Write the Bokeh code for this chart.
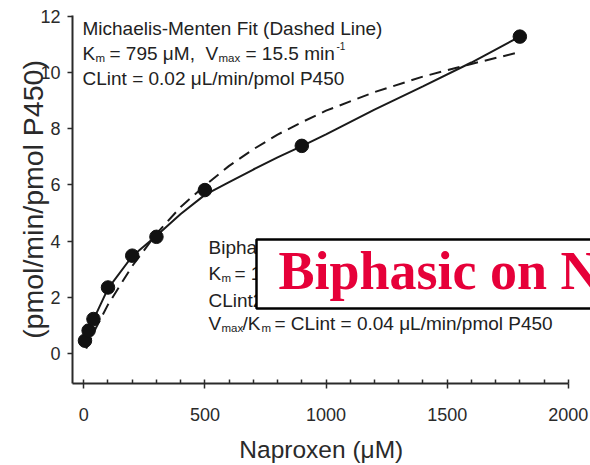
from bokeh.plotting import figure
from bokeh.models import Label, SingleIntervalTicker, Range1d
from bokeh.embed import file_html
from bokeh.resources import INLINE

# measured data points (Naproxen uM vs pmol/min/pmol P450)
conc = [5, 20, 40, 100, 200, 300, 500, 900, 1800]
rate = [0.47, 0.83, 1.24, 2.36, 3.49, 4.16, 5.82, 7.39, 11.27]

# Michaelis-Menten fit (dashed line)
mm_x = [10, 50, 100, 200, 300, 400, 500, 600, 700, 800, 900, 1000, 1200, 1400, 1600, 1800]
mm_y = [0.19, 0.92, 1.75, 3.12, 4.27, 5.22, 5.98, 6.68, 7.27, 7.79, 8.23, 8.64, 9.30, 9.85, 10.30, 10.72]

# Biphasic fit (solid line)
bi_x = [5, 20, 40, 100, 200, 300, 400, 500, 600, 700, 800, 900, 1000, 1200, 1400, 1600, 1800]
bi_y = [0.42, 0.80, 1.22, 2.32, 3.47, 4.20, 4.97, 5.65, 6.10, 6.55, 6.98, 7.38, 7.80, 8.68, 9.50, 10.35, 11.27]

x_axis_end = 2000
x_ticks_interval = 500
y_ticks_interval = 2

W, H = 590, 465
BL, BR, BT, BB = 72, 0, 15, 82
SX = 497 / 2051.5
XR = (-46.5, 2005 + 21 / SX)
YR = (-1.05, 12.02)

p = figure(width=W, height=H, output_backend="svg", toolbar_location=None,
           x_range=Range1d(*XR), y_range=Range1d(*YR),
           min_border_left=BL, min_border_right=BR, min_border_top=BT, min_border_bottom=BB)
p.outline_line_color = None
p.grid.visible = False
p.background_fill_color = "white"
p.border_fill_color = "white"

AX = "#2a2a2a"
FONT = "Liberation Sans"

xa = p.xaxis[0]
xa.bounds = (XR[0], x_axis_end)
xa.ticker = SingleIntervalTicker(interval=x_ticks_interval, num_minor_ticks=5)
xa.major_tick_out = 5
xa.major_tick_in = 0
xa.minor_tick_out = 0
xa.minor_tick_in = 4
xa.axis_line_width = 2
xa.axis_line_color = AX
xa.major_tick_line_color = AX
xa.minor_tick_line_color = AX
xa.major_tick_line_width = 1.5
xa.minor_tick_line_width = 1.5
xa.major_label_text_font = FONT
xa.major_label_text_font_size = "18px"
xa.major_label_text_color = AX
xa.major_label_standoff = 19
xa.axis_label = "Naproxen (\u03bcM)\u00a0\u00a0\u00a0"
xa.axis_label_text_font = FONT
xa.axis_label_text_font_size = "24.5px"
xa.axis_label_text_font_style = "normal"
xa.axis_label_text_color = AX
xa.axis_label_standoff = 12

ya = p.yaxis[0]
ya.ticker = SingleIntervalTicker(interval=y_ticks_interval, num_minor_ticks=0)
ya.major_tick_out = 5
ya.major_tick_in = 0
ya.minor_tick_line_color = None
ya.axis_line_width = 2
ya.axis_line_color = AX
ya.major_tick_line_color = AX
ya.major_tick_line_width = 1.5
ya.major_label_text_font = FONT
ya.major_label_text_font_size = "18px"
ya.major_label_text_color = AX
ya.major_label_standoff = 7
ya.axis_label = "(pmol/min/pmol P450)"
ya.axis_label_text_font = FONT
ya.axis_label_text_font_size = "28.5px"
ya.axis_label_text_font_style = "normal"
ya.axis_label_text_color = AX
ya.axis_label_standoff = -12

p.line(mm_x, mm_y, line_dash="12 7", line_width=2, line_color="#1a1a1a")
p.line(bi_x, bi_y, line_width=2, line_color="#1a1a1a")
p.scatter(conc, rate, size=13.5, fill_color="#111111", line_color="#111111")

# helpers: convert pixel position in the picture to data coordinates
sx = (W - BL - BR) / (XR[1] - XR[0])
sy = (H - BT - BB) / (YR[1] - YR[0])


def dx(px):
    return XR[0] + (px - BL) / sx


def dy(py):
    return YR[1] - (py - BT) / sy


def lab(px, py, s, size=19, **kw):
    p.add_layout(Label(x=dx(px), y=dy(py), text=s, text_font=FONT,
                       text_font_size=f"{size}px", text_color=kw.pop("color", "#222222"),
                       text_baseline="alphabetic", text_align="left", **kw))


SUB = 11.5
# Michaelis-Menten block
lab(82, 28, "Michaelis-Menten Fit (Dashed Line)")
lab(82, 53, "K")
lab(95, 57, "m", SUB)
lab(109, 53, "= 795 \u03bcM,")
lab(205, 53, "V")
lab(218, 57, "max", SUB)
lab(245, 53, "= 15.5 min")
lab(336, 45, "-1", 10)
lab(82, 78, "CLint = 0.02 \u03bcL/min/pmol P450")

# Biphasic block
lab(208, 247, "Biphasic Fit (Solid Line)")
lab(208, 273, "K")
lab(221, 277, "m", SUB)
lab(234, 273, "= 1")
lab(208, 300, "CLint2")
lab(208, 323, "V")
lab(221, 327, "max", SUB)
lab(242, 323, "/K")
lab(261, 327, "m", SUB)
lab(274, 323, "= CLint = 0.04 \u03bcL/min/pmol P450")

# overlay caption box
p.add_layout(Label(x=dx(256), y=dy(239), text="Biphasic on N",
                   text_font="Liberation Serif", text_font_style="bold",
                   text_font_size="54px", text_color="#e60039",
                   text_baseline="top", text_align="left",
                   background_fill_color="white", background_fill_alpha=1.0,
                   border_line_color="black", border_line_width=2.5,
                   padding=dict(left=22, right=30, top=1, bottom=8)))

open("out.html", "w").write(file_html(p, INLINE))
